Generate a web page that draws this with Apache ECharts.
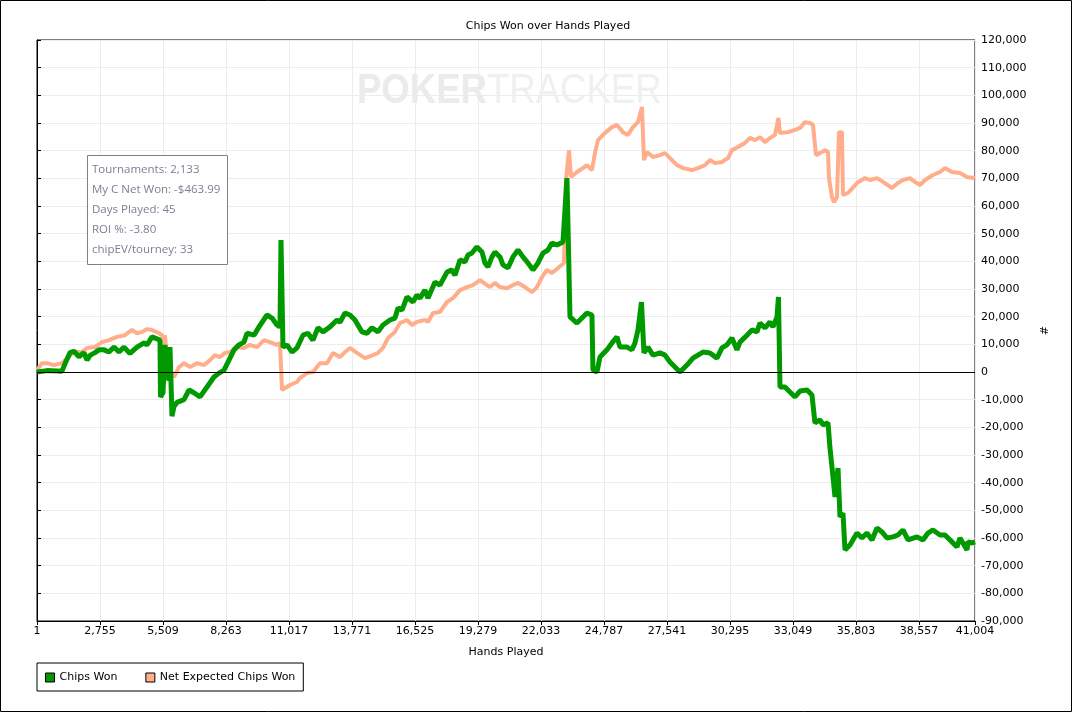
<!DOCTYPE html>
<html>
<head>
<meta charset="utf-8">
<script src="https://cdn.jsdelivr.net/npm/echarts@6/dist/echarts.min.js"></script>
<style>
html,body{margin:0;padding:0;background:#fff;}
#chart{width:1073px;height:713px;}
</style>
</head>
<body>
<div id="chart"></div>
<script>
// ---- data (hand number, chips) ----
var CW_HANDS = [1,438,1094,1225,1444,1618,1837,2055,2187,2318,2536,2711,2930,3148,3367,3585,3804,4066,4372,4678,4809,5028,5246,5377,5399,5509,5596,5683,5771,5814,5902,5989,6120,6426,6645,6863,7126,7432,7738,7956,8175,8393,8612,8830,9049,9181,9487,9705,10055,10273,10492,10623,10667,10754,10929,11147,11366,11628,11847,12065,12284,12502,12808,13114,13245,13464,13682,13901,14207,14425,14644,14906,15125,15431,15649,15781,15955,16174,16436,16611,16742,16960,17092,17398,17616,17922,18141,18272,18490,18709,18840,19015,19233,19452,19583,19714,19889,20020,20239,20370,20588,20807,21026,21244,21463,21681,21900,22118,22337,22512,22730,22993,23167,23299,23604,23823,24042,24260,24304,24479,24610,24916,25134,25353,25484,25790,26009,26140,26271,26424,26533,26708,26927,27233,27451,27670,27888,28107,28413,28675,28894,29112,29418,29724,29943,30162,30380,30599,30730,31036,31255,31473,31605,31823,32042,32173,32348,32413,32479,32698,32916,33135,33354,33660,33878,34009,34228,34359,34578,34665,34796,34884,35015,35102,35233,35321,35539,35845,36064,36282,36501,36719,36938,37156,37419,37637,37856,38074,38467,38730,38948,39167,39473,39691,39997,40216,40347,40478,40653,40697,40872,41004];
var CHIPS_WON = [0,500,300,3000,7000,7500,5500,7000,4300,6000,7000,8000,8000,7200,9000,7200,9000,6700,9000,10500,9800,12700,12000,11500,-9000,-7500,9800,0,-3000,9000,-16000,-12500,-11000,-10000,-6500,-7500,-9000,-5400,-1800,-400,700,4300,8000,9800,10800,14000,13300,16300,20600,19500,17000,16300,47700,9000,9800,7200,8700,13300,14000,11500,16000,14500,16300,18800,18000,21300,20600,18800,14500,14000,16000,14500,17000,18800,19500,23100,22400,27100,25300,27800,26700,29600,26700,32500,31400,36100,36900,35000,40500,39800,42300,43000,45200,43400,39400,38000,41600,43400,41600,38700,37600,41600,44100,41600,39400,36900,39400,43000,44100,46600,45900,47000,70100,19900,17700,19500,21300,20600,700,0,5400,8000,10500,12700,9000,9000,8000,10500,15200,25300,6900,9000,6100,6900,6100,3600,1800,0,2500,5000,6100,7200,6900,5000,8700,9800,12300,8000,10800,13300,15200,14500,17700,15900,18100,16300,19900,27100,-5400,-5400,-7200,-9000,-6900,-6500,-8300,-18400,-17300,-19100,-18400,-27500,-37900,-45200,-34700,-52400,-51000,-64300,-62500,-58200,-60000,-58200,-60700,-56400,-57800,-60000,-59600,-58900,-57100,-60700,-59600,-60700,-58200,-57100,-58900,-58900,-61400,-63200,-60000,-61800,-64300,-61400,-61800,-61400];

var EV_HANDS = [1,220,438,744,1094,1312,1618,1968,2187,2536,2842,3148,3498,3847,4153,4372,4591,4809,5028,5334,5465,5552,5596,5683,5814,5989,6208,6426,6689,6995,7301,7563,7782,8000,8219,8437,8743,9049,9311,9618,9924,10186,10492,10623,10710,11060,11366,11497,11803,12065,12371,12677,12939,13245,13464,13682,13988,14338,14688,14906,15125,15344,15649,15868,16174,16393,16611,16960,17092,17310,17616,17922,18185,18490,18797,19059,19365,19671,19802,20020,20239,20545,20807,21026,21332,21638,21856,22075,22293,22512,22774,23036,23124,23255,23342,23604,23866,24042,24260,24391,24523,24829,25135,25353,25615,25834,26053,26271,26446,26533,26664,26927,27233,27451,27670,27976,28238,28632,28894,29200,29418,29637,29943,30205,30380,30642,30948,31167,31386,31605,31823,32042,32261,32413,32479,32828,33135,33354,33572,33791,33922,34053,34228,34446,34578,34621,34752,34840,34971,35058,35189,35233,35452,35845,36195,36414,36719,36982,37375,37637,37856,38162,38380,38599,38817,39167,39473,39691,39997,40347,40653,40916,41004];
var NET_EXPECTED = [700,3200,3200,2500,3200,5000,7200,7200,8700,9000,10800,11500,12700,13300,15200,14000,14500,15500,15200,14000,13300,9800,13300,4300,0,-1800,1800,3200,1800,3200,2500,4300,6100,5400,6900,7200,9000,8700,9800,9000,11500,10800,9800,10500,-6500,-4700,-3600,-2200,-400,0,3200,3200,6900,5400,7200,8700,6900,5000,6100,6900,8700,12300,14500,17700,18800,17000,18100,18800,18100,21300,21700,25300,26700,29600,30700,31400,33200,31400,30700,32200,30700,30300,31400,32200,30700,28900,30700,34300,36900,35800,37600,39400,69400,80200,70500,72300,73700,74800,73000,79100,83800,86400,88500,89300,86700,85700,88500,90300,95800,76600,79500,77700,78400,79100,77300,74800,73700,73000,73700,74800,76600,75500,75900,77300,80200,81300,82800,84600,83800,84900,83100,84600,85700,91800,86400,86700,87500,88200,90300,90000,89300,78400,79100,80200,79500,70100,63200,61400,63200,86700,86700,64000,64700,68300,70100,69400,70100,68700,66500,68300,69400,70100,68700,67600,69400,71200,72300,73700,72300,71900,70500,70100,70500];

var SERIES_NAMES = ['Chips Won', 'Net Expected Chips Won'];
var STATS_LINES = ['Tournaments: 2,133', 'My C Net Won: -$463.99', 'Days Played: 45', 'ROI %: -3.80', 'chipEV/tourney: 33'];
var FIRST_HAND = 1, LAST_HAND = 41004, HAND_STEP = 2754;
var Y_MIN = -90000, Y_MAX = 120000, Y_STEP = 10000;

// axis runs on (hand - 1) so that ticks start at 0
function toPts(hands, vals) {
  return hands.map(function (h, i) { return [h - FIRST_HAND, vals[i]]; });
}
function fmt(v) { return Math.round(v).toLocaleString('en-US'); }

var FONT = 'DejaVu Sans';
var chart = echarts.init(document.getElementById('chart'), null, {renderer: 'canvas'});
chart.setOption({
  animation: false,
  backgroundColor: '#fff',
  textStyle: {fontFamily: FONT},
  title: {
    text: 'Chips Won over Hands Played',
    left: 543, top: 16, textAlign: 'center',
    textStyle: {fontSize: 11, fontWeight: 'normal', color: '#000', fontFamily: FONT}
  },
  grid: {left: 37, right: 98, top: 40, bottom: 92, show: true, borderColor: '#000', borderWidth: 1, containLabel: false},
  legend: {
    data: SERIES_NAMES,
    left: 37, top: 663,
    orient: 'horizontal',
    icon: 'rect', itemWidth: 9, itemHeight: 9, itemGap: 28,
    padding: [9, 8, 8, 8],
    borderColor: '#000', borderWidth: 1, backgroundColor: '#fff',
    itemStyle: {borderColor: '#000', borderWidth: 1},
    textStyle: {fontSize: 11, color: '#000', fontFamily: FONT}
  },
  xAxis: {
    type: 'value',
    min: 0, max: LAST_HAND - FIRST_HAND, interval: HAND_STEP,
    name: 'Hands Played', nameLocation: 'middle', nameGap: 26,
    nameTextStyle: {fontSize: 11, color: '#000', fontFamily: FONT},
    axisLine: {show: true, onZero: false, lineStyle: {color: '#000', width: 1}},
    axisTick: {show: true, length: 4, lineStyle: {color: '#000'}},
    axisLabel: {fontSize: 11, color: '#000', margin: 5, formatter: function (v) { return fmt(v + FIRST_HAND); }},
    splitLine: {show: true, lineStyle: {color: '#ececec', width: 1}}
  },
  yAxis: {
    type: 'value', position: 'right',
    min: Y_MIN, max: Y_MAX, interval: Y_STEP,
    name: '#', nameLocation: 'middle', nameGap: 62, nameRotate: -90,
    nameTextStyle: {fontSize: 11, color: '#000', fontFamily: FONT},
    axisLine: {show: true, lineStyle: {color: '#000', width: 1}},
    axisTick: {show: true, length: 4, lineStyle: {color: '#000'}},
    axisLabel: {fontSize: 11, color: '#000', margin: 6, formatter: fmt},
    splitLine: {show: true, lineStyle: {color: '#ececec', width: 1}}
  },
  graphic: [
    {type: 'rect', silent: true, z: 100, shape: {x: 0.5, y: 0.5, width: 1071, height: 711},
     style: {fill: 'none', stroke: '#000', lineWidth: 1}},
    {type: 'text', silent: true, z: 1, x: 357, y: 70, scaleX: 0.87,
     style: {text: '{b|POKER}{n|TRACKER}', rich: {
       b: {fontSize: 42, fontWeight: 'bold', fill: '#ebebeb', fontFamily: 'Liberation Sans'},
       n: {fontSize: 42, fontWeight: 'normal', fill: '#f0f0f0', fontFamily: 'Liberation Sans'}
     }}},
    {type: 'rect', silent: true, z: 50, shape: {x: 87.5, y: 155.5, width: 140, height: 109},
     style: {fill: '#fff', stroke: '#808080', lineWidth: 1}},
    {type: 'text', silent: true, z: 51, x: 92, y: 160,
     style: {text: STATS_LINES.join('\n'), fill: '#857a93', font: '11.5px "Open Sans"', lineHeight: 20}}
  ],
  series: [
    {
      name: SERIES_NAMES[1], type: 'line', showSymbol: false, symbol: 'none', z: 2,
      data: toPts(EV_HANDS, NET_EXPECTED),
      itemStyle: {color: '#ffad8a'},
      lineStyle: {color: '#ffad8a', width: 4, join: 'bevel'},
      markLine: {silent: true, symbol: ['none', 'none'], label: {show: false},
        lineStyle: {color: '#000', width: 1, type: 'solid'}, data: [{yAxis: 0}]}
    },
    {
      name: SERIES_NAMES[0], type: 'line', showSymbol: false, symbol: 'none', z: 3,
      data: toPts(CW_HANDS, CHIPS_WON),
      itemStyle: {color: '#009a00'},
      lineStyle: {color: '#009a00', width: 5, join: 'bevel'}
    }
  ]
});
</script>
</body>
</html>
